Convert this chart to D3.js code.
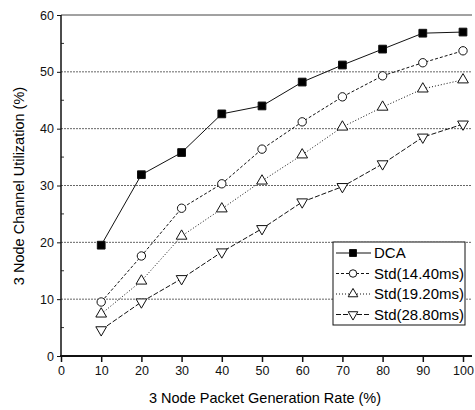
<!DOCTYPE html>
<html>
<head>
<meta charset="utf-8">
<style>
    body { margin: 0; background: #fff; }
    svg { font-family: Arial, "Liberation Sans", sans-serif; }
    .tick text { font-size: 12.5px; fill: #111; }
    .domain { display: none; }
</style>
</head>
<body>
<svg width="475" height="410"></svg>
<script src="https://d3js.org/d3.v7.min.js"></script>
<script>
    // packet generation rate (%)
    let rates = [10, 20, 30, 40, 50, 60, 70, 80, 90, 100];
    let dca = [19.5, 31.9, 35.8, 42.6, 44.0, 48.2, 51.2, 54.0, 56.8, 57.0];
    let std1440 = [9.5, 17.6, 26.0, 30.3, 36.4, 41.2, 45.6, 49.3, 51.6, 53.7];
    let std1920 = [7.4, 13.2, 21.1, 25.9, 30.8, 35.4, 40.3, 43.8, 47.0, 48.6];
    let std2880 = [4.6, 9.5, 13.6, 18.3, 22.4, 27.1, 29.8, 33.8, 38.5, 40.8];
    let seriesNames = ["DCA", "Std(14.40ms)", "Std(19.20ms)", "Std(28.80ms)"];
    let xTicks = [0, 10, 20, 30, 40, 50, 60, 70, 80, 90, 100];
    let yTicks = [0, 10, 20, 30, 40, 50, 60];

    let svg = d3.select("svg");

    let x = d3.scaleLinear().domain([0, 100]).range([61, 463]);
    let y = d3.scaleLinear().domain([0, 60]).range([356, 15]);
    let right = 472;

    // grid lines
    svg.append("g")
        .selectAll("line")
        .data(yTicks.filter(d => d > 0))
        .join("line")
        .attr("x1", x(0)).attr("x2", right)
        .attr("y1", d => y(d)).attr("y2", d => y(d))
        .style("stroke", d => d == 60 ? "#444" : "#666")
        .style("stroke-width", 1)
        .style("stroke-dasharray", d => d == 60 ? null : "2,1");

    // axes
    svg.append("g")
        .attr("transform", `translate(0,${y(0)})`)
        .call(d3.axisBottom(x).tickValues(xTicks).tickSize(6).tickPadding(4))
        .call(g => g.selectAll(".tick line").style("stroke", "#111").style("stroke-width", 1.5));

    svg.append("g")
        .attr("transform", `translate(${x(0)},0)`)
        .call(d3.axisLeft(y).tickValues(yTicks).tickSize(4).tickPadding(3))
        .call(g => g.selectAll(".tick line").style("stroke", "#111"));

    // minor y ticks
    svg.append("g")
        .selectAll("line")
        .data([5, 15, 25, 35, 45, 55])
        .join("line")
        .attr("x1", x(0)).attr("x2", x(0) + 3)
        .attr("y1", d => y(d)).attr("y2", d => y(d))
        .style("stroke", "#333");

    svg.append("line")
        .attr("x1", x(0)).attr("x2", x(0))
        .attr("y1", y(60)).attr("y2", y(0) + 1)
        .style("stroke", "#111").style("stroke-width", 1.5);
    svg.append("line")
        .attr("x1", x(0) - 1).attr("x2", right)
        .attr("y1", y(0)).attr("y2", y(0))
        .style("stroke", "#111").style("stroke-width", 2);

    // axis titles
    svg.append("text")
        .attr("x", 265).attr("y", 403)
        .style("text-anchor", "middle")
        .style("font-size", "14.5px")
        .text("3 Node Packet Generation Rate (%)");

    svg.append("text")
        .attr("transform", "translate(24,186) rotate(-90)")
        .style("text-anchor", "middle")
        .style("font-size", "14.5px")
        .text("3 Node Channel Utilization (%)");

    let allSeries = [dca, std1440, std1920, std2880];
    let dashes = [null, "3,2", "1,2", "5,2"];
    let symbols = [d3.symbolSquare, d3.symbolCircle, d3.symbolTriangle, d3.symbolTriangle];
    let sizes = [60, 55, 50, 50];
    let rotations = [0, 0, 0, 180];
    let fills = ["#000", "#fff", "#fff", "#fff"];

    let line = d3.line()
        .x((d, i) => x(rates[i]))
        .y(d => y(d));

    allSeries.forEach(function (vals, k) {
        svg.append("path")
            .datum(vals)
            .attr("d", line)
            .style("fill", "none")
            .style("stroke", "#111")
            .style("stroke-width", 1)
            .style("stroke-dasharray", dashes[k]);

        svg.append("g")
            .selectAll("path")
            .data(vals)
            .join("path")
            .attr("transform", (d, i) => `translate(${x(rates[i])},${y(d)}) rotate(${rotations[k]})`)
            .attr("d", d3.symbol().type(symbols[k]).size(sizes[k]))
            .style("fill", fills[k])
            .style("stroke", "#111")
            .style("stroke-width", 1);
    });

    // legend
    let legend = svg.append("g");
    legend.append("rect")
        .attr("x", 333).attr("y", 242)
        .attr("width", 132).attr("height", 83)
        .style("fill", "#fff")
        .style("stroke", "#111")
        .style("stroke-width", 1);

    seriesNames.forEach(function (name, k) {
        let ly = 253 + k * 20.5;
        legend.append("line")
            .attr("x1", 336).attr("x2", 371)
            .attr("y1", ly).attr("y2", ly)
            .style("stroke", "#111")
            .style("stroke-dasharray", dashes[k]);
        legend.append("path")
            .attr("transform", `translate(353,${ly}) rotate(${rotations[k]})`)
            .attr("d", d3.symbol().type(symbols[k]).size(sizes[k] * 0.8))
            .style("fill", fills[k])
            .style("stroke", "#111");
        legend.append("text")
            .attr("x", 374).attr("y", ly + 5)
            .style("font-size", "15px")
            .text(name);
    });
</script>
</body>
</html>
